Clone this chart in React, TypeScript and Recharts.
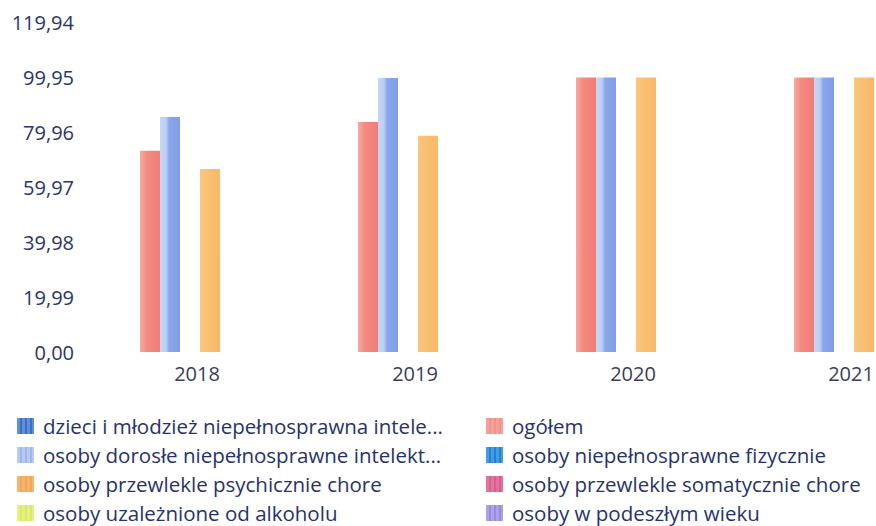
import React from "react";
import { BarChart, Bar, XAxis, YAxis } from "recharts";

const years = ["2018", "2019", "2020", "2021"];
const ogolem = [73.1, 83.6, 99.8, 99.8];
const dorosle = [85.4, 99.6, 99.8, 99.8];
const fizycznie: (number | null)[] = [null, null, null, null];
const psychicznie = [66.5, 78.6, 99.8, 99.8];
const yTicks = [0, 19.99, 39.98, 59.97, 79.96, 99.95, 119.94];

const legendItems = [
  { label: "dzieci i młodzież niepełnosprawna intele...", color: "#5f8fd8", stripe: "#3f6fc0" },
  { label: "ogółem", color: "#f6a198", stripe: "#f3928a" },
  { label: "osoby dorosłe niepełnosprawne intelekt...", color: "#b7caf1", stripe: "#9db6ec" },
  { label: "osoby niepełnosprawne fizycznie", color: "#3f9fe2", stripe: "#2a7fcc" },
  { label: "osoby przewlekle psychicznie chore", color: "#f7b46c", stripe: "#f3a65a" },
  { label: "osoby przewlekle somatycznie chore", color: "#e4749f", stripe: "#d65f8f" },
  { label: "osoby uzależnione od alkoholu", color: "#e6f07e", stripe: "#d8e86a" },
  { label: "osoby w podeszłym wieku", color: "#aba3ea", stripe: "#958ce0" },
];

const data = years.map((y, i) => ({
  year: y,
  ogolem: ogolem[i],
  dorosle: dorosle[i],
  fizycznie: fizycznie[i],
  psychicznie: psychicznie[i],
}));

const FONT = "'Open Sans', 'DejaVu Sans', sans-serif";

const fmt = (v: number) => v.toFixed(2).replace(".", ",");

const YTick = (props: any) => {
  const { y, payload } = props;
  return (
    <text x={74} y={y} textAnchor="end" dominantBaseline="central" fontSize={20} fontFamily={FONT} fill="#2b3470">
      {fmt(payload.value)}
    </text>
  );
};

const XTick = (props: any) => {
  const { x, payload } = props;
  return (
    <text x={x + 17} y={373} textAnchor="middle" dominantBaseline="central" fontSize={20} fontFamily={FONT} fill="#3a3d5c">
      {payload.value}
    </text>
  );
};

export default function App() {
  return (
    <div style={{ position: "absolute", left: 0, top: 0, width: 876, height: 526, overflow: "hidden", background: "#fff" }}>
      <BarChart
        width={943}
        height={526}
        data={data}
        margin={{ top: 22, right: 0, left: 0, bottom: 144 }}
        barGap={0}
        barSize={20}
      >
        <defs>
          <linearGradient id="gRed" x1="0" y1="0" x2="1" y2="0">
            <stop offset="0" stopColor="#f7aba0" />
            <stop offset="0.35" stopColor="#f28a81" />
            <stop offset="1" stopColor="#f07d76" />
          </linearGradient>
          <linearGradient id="gBlue" x1="0" y1="0" x2="1" y2="0">
            <stop offset="0" stopColor="#c6d6f5" />
            <stop offset="0.3" stopColor="#bccff3" />
            <stop offset="0.45" stopColor="#8aa7eb" />
            <stop offset="1" stopColor="#7f9de8" />
          </linearGradient>
          <linearGradient id="gOrange" x1="0" y1="0" x2="1" y2="0">
            <stop offset="0" stopColor="#fbc57c" />
            <stop offset="1" stopColor="#f8b866" />
          </linearGradient>
        </defs>
        <XAxis dataKey="year" axisLine={false} tickLine={false} height={30} tick={<XTick />} interval={0} />
        <YAxis
          width={71}
          domain={[0, 119.94]}
          ticks={yTicks}
          axisLine={false}
          tickLine={false}
          tick={<YTick />}
          interval={0}
        />
        <Bar dataKey="ogolem" fill="url(#gRed)" isAnimationActive={false} />
        <Bar dataKey="dorosle" fill="url(#gBlue)" isAnimationActive={false} />
        <Bar dataKey="fizycznie" fill="#3f9fe2" isAnimationActive={false} />
        <Bar dataKey="psychicznie" fill="url(#gOrange)" isAnimationActive={false} />
      </BarChart>
      <div
        style={{
          position: "absolute",
          left: 17,
          top: 411,
          width: 860,
          display: "grid",
          gridTemplateColumns: "469px 390px",
          rowGap: 0,
          fontFamily: FONT,
          fontSize: 20.5,
          color: "#27316f",
        }}
      >
        {legendItems.map((it) => (
          <div key={it.label} style={{ display: "flex", alignItems: "center", height: 29, whiteSpace: "nowrap" }}>
            <span
              style={{
                display: "inline-block",
                width: 17,
                height: 16,
                marginRight: 9,
                background: `repeating-linear-gradient(90deg, ${it.color} 0 3px, ${it.stripe} 3px 5px)`,
              }}
            />
            <span>{it.label}</span>
          </div>
        ))}
      </div>
    </div>
  );
}
